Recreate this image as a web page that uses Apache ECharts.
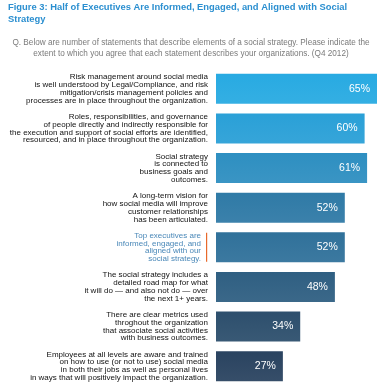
<!DOCTYPE html>
<html><head><meta charset="utf-8">
<script src="https://cdn.jsdelivr.net/npm/echarts@6/dist/echarts.min.js"></script>
<style>html,body{margin:0;padding:0;background:#fff;}#c{width:392px;height:392px;}</style>
</head><body><div id="c"></div>
<script>
const titleText = 'Figure 3: Half of Executives Are Informed, Engaged, and Aligned with Social\nStrategy';
const questionText = 'Q. Below are number of statements that describe elements of a social strategy. Please indicate the\nextent to which you agree that each statement describes your organizations. (Q4 2012)';
const categories = [
  'Risk management around social media\nis well understood by Legal/Compliance, and risk\nmitigation/crisis management policies and\nprocesses are in place throughout the organization.',
  'Roles, responsibilities, and governance\nof people directly and indirectly responsible for\nthe execution and support of social efforts are identified,\nresourced, and in place throughout the organization.',
  'Social strategy\nis connected to\nbusiness goals and\noutcomes.',
  'A long-term vision for\nhow social media will improve\ncustomer relationships\nhas been articulated.',
  'Top executives are\ninformed, engaged, and\naligned with our\nsocial strategy.',
  'The social strategy includes a\ndetailed road map for what\nit will do — and also not do — over\nthe next 1+ years.',
  'There are clear metrics used\nthroghout the organization\nthat associate social activities\nwith business outcomes.',
  'Employees at all levels are aware and trained\non how to use (or not to use) social media\nin both their jobs as well as personal lives\nin ways that will positively impact the organization.'
];
const values = [65, 60, 61, 52, 52, 48, 34, 27];
const highlightIndex = 4;
const barColors = ['#28aae2','#2aa0d7','#2e8fc1','#2f7aa6','#30719a','#2f5f82','#2d4f6d','#2a4360'];

const FONT = '"Liberation Sans", Arial, Helvetica, sans-serif';
const chart = echarts.init(document.getElementById('c'));
const option = {
  backgroundColor: '#fff',
  animation: false,
  title: [
    { text: titleText, left: 8, top: 1, padding: 0,
      textStyle: { fontFamily: FONT, fontSize: 9.4, fontWeight: 'bold', color: '#2b8fd0', lineHeight: 12 } },
    { text: questionText, left: 191, top: 37.5, padding: 0, textAlign: 'center',
      textStyle: { fontFamily: FONT, fontSize: 8.2, fontWeight: 'normal', color: '#7a7a7a', lineHeight: 11, align: 'center' } }
  ],
  grid: { left: 216, top: 69, width: 161, height: 317, containLabel: false },
  xAxis: { type: 'value', min: 0, max: 65, show: false },
  yAxis: {
    type: 'category', data: categories, inverse: true,
    axisLine: { show: false }, axisTick: { show: false },
    axisLabel: {
      margin: 8, interval: 0,
      formatter: function (v, i) {
        const st = i === highlightIndex ? 'hl' : 'n';
        return v.split('\n').map(l => '{' + st + '|' + l + '}').join('\n');
      },
      rich: {
        n: { fontFamily: FONT, fontSize: 8, lineHeight: 7.8, color: '#111111', align: 'right' },
        hl: { fontFamily: FONT, fontSize: 8, lineHeight: 7.8, color: '#4a88b8', align: 'right', padding: [0, 7, 0, 0] }
      }
    }
  },
  series: [{
    type: 'bar', barWidth: 30,
    data: values.map((v, i) => ({
      value: v,
      itemStyle: { color: new echarts.graphic.LinearGradient(0, 0, 0, 1, [
        { offset: 0, color: barColors[i] },
        { offset: 1, color: echarts.color.lift(barColors[i], 0.06) }
      ]) }
    })),
    label: { show: true, position: 'insideRight', distance: 7, formatter: '{c}%',
      fontFamily: FONT, fontSize: 10.5, color: '#ffffff' }
  }]
};
chart.setOption(option);
const yc = chart.convertToPixel({ gridIndex: 0 }, [0, highlightIndex]);
chart.setOption({ graphic: [{ type: 'rect', shape: { x: yc[0] - 10, y: yc[1] - 14.5, width: 1.2, height: 29 }, style: { fill: '#e8692b' } }] });
</script></body></html>
